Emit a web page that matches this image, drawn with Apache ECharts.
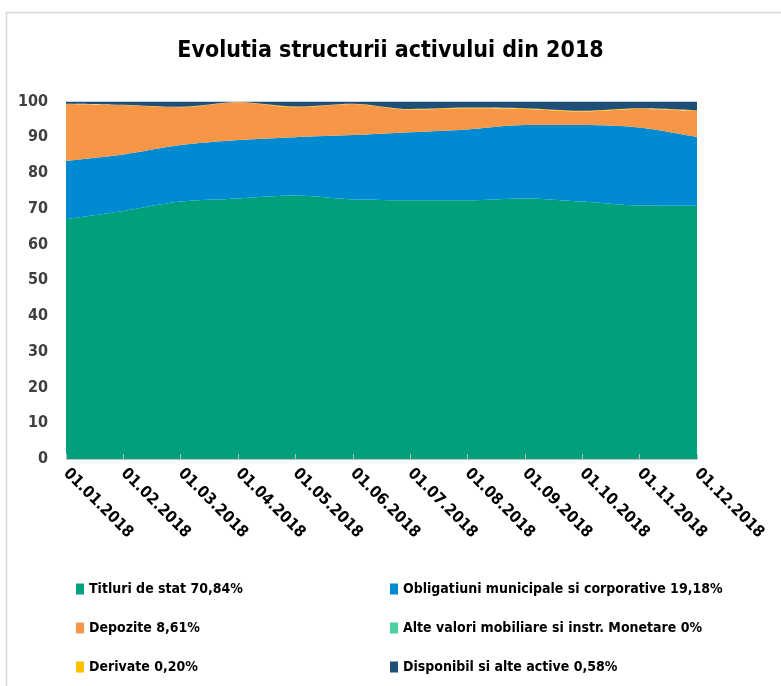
<!DOCTYPE html>
<html>
<head>
<meta charset="utf-8">
<script src="https://cdn.jsdelivr.net/npm/echarts@6/dist/echarts.min.js"></script>
<style>html,body{margin:0;padding:0;background:#fff;}#c{width:781px;height:686px;}</style>
</head>
<body>
<div id="c"></div>
<script>
var categories = ['01.01.2018','01.02.2018','01.03.2018','01.04.2018','01.05.2018','01.06.2018','01.07.2018','01.08.2018','01.09.2018','01.10.2018','01.11.2018','01.12.2018'];
var titluri = [67.1, 69.4, 72.0, 72.9, 73.7, 72.6, 72.4, 72.4, 72.9, 72.0, 70.9, 70.84];
var obligatiuni = [16.3, 15.8, 15.8, 16.3, 16.3, 18.0, 19.0, 19.8, 20.5, 21.4, 21.8, 19.18];
var depozite = [15.9, 13.8, 10.6, 10.6, 8.4, 8.7, 6.3, 5.9, 4.5, 3.8, 5.2, 7.3];
var alteValori = [0, 0, 0, 0, 0, 0, 0, 0, 0, 0, 0, 0];
var derivate = [0.1, 0.1, 0.1, 0.05, 0.2, 0.1, 0.2, 0.2, 0.2, 0.2, 0.2, 0.2];
var disponibil = [0.6, 0.9, 1.5, 0.15, 1.4, 0.6, 2.1, 1.7, 1.9, 2.6, 1.9, 2.5];
var yTicks = [0, 10, 20, 30, 40, 50, 60, 70, 80, 90, 100];

var names = ['Titluri de stat 70,84%', 'Obligatiuni municipale si corporative 19,18%', 'Depozite 8,61%', 'Alte valori mobiliare si instr. Monetare 0%', 'Derivate 0,20%', 'Disponibil si alte active 0,58%'];
var colors = ['#00A07B', '#008AD2', '#F79646', '#4FD19F', '#FFC000', '#1F4E79'];
var dataSets = [titluri, obligatiuni, depozite, alteValori, derivate, disponibil];

var FONT = '"DejaVu Sans Condensed", "Liberation Sans Narrow", sans-serif';

var series = dataSets.map(function (d, i) {
  return {
    name: names[i], type: 'line', stack: 'total', data: d,
    smooth: 0.3, symbol: 'none', showSymbol: false,
    lineStyle: { width: 0 },
    areaStyle: { color: colors[i], opacity: 1 },
    itemStyle: { color: colors[i] },
    z: 2
  };
});

var legendText = { fontFamily: FONT, fontSize: 14, fontWeight: 'bold', color: '#000' };
var chart = echarts.init(document.getElementById('c'));
chart.setOption({
  animation: false,
  backgroundColor: '#fff',
  graphic: [{ type: 'rect', shape: { x: 6.5, y: 12.5, width: 800, height: 700 }, style: { fill: 'none', stroke: '#D9D9D9', lineWidth: 1.5 }, silent: true }],
  title: { text: 'Evolutia structurii activului din 2018', left: 'center', top: 35,
    textStyle: { fontFamily: FONT, fontSize: 23, fontWeight: 'bold', color: '#000' } },
  legend: [
    { orient: 'vertical', left: 71, top: 577, itemGap: 25, itemWidth: 8, itemHeight: 11, icon: 'rect',
      data: [names[0], names[2], names[4]], textStyle: legendText, selectedMode: false },
    { orient: 'vertical', left: 385, top: 577, itemGap: 25, itemWidth: 8, itemHeight: 11, icon: 'rect',
      data: [names[1], names[3], names[5]], textStyle: legendText, selectedMode: false }
  ],
  grid: { left: 66, right: 84, top: 101.5, bottom: 227, containLabel: false },
  xAxis: {
    type: 'category', data: categories, boundaryGap: false,
    axisLine: { lineStyle: { color: '#BFBFBF', width: 1 } },
    axisTick: { show: true, inside: true, length: 5, interval: 0, lineStyle: { color: '#BFBFBF' } },
    axisLabel: { interval: 0, rotate: -45, margin: 12, fontFamily: FONT, fontSize: 16, fontWeight: 'bold', color: '#000' },
    z: 10
  },
  yAxis: {
    type: 'value', min: 0, max: 100, interval: 10,
    axisLine: { show: false }, axisTick: { show: false }, splitLine: { show: false },
    axisLabel: { margin: 18, fontFamily: FONT, fontSize: 16, fontWeight: 'bold', color: '#404040',
      formatter: function (v) { return yTicks.indexOf(v) >= 0 ? String(v) : ''; } }
  },
  series: series
});
</script>
</body>
</html>
